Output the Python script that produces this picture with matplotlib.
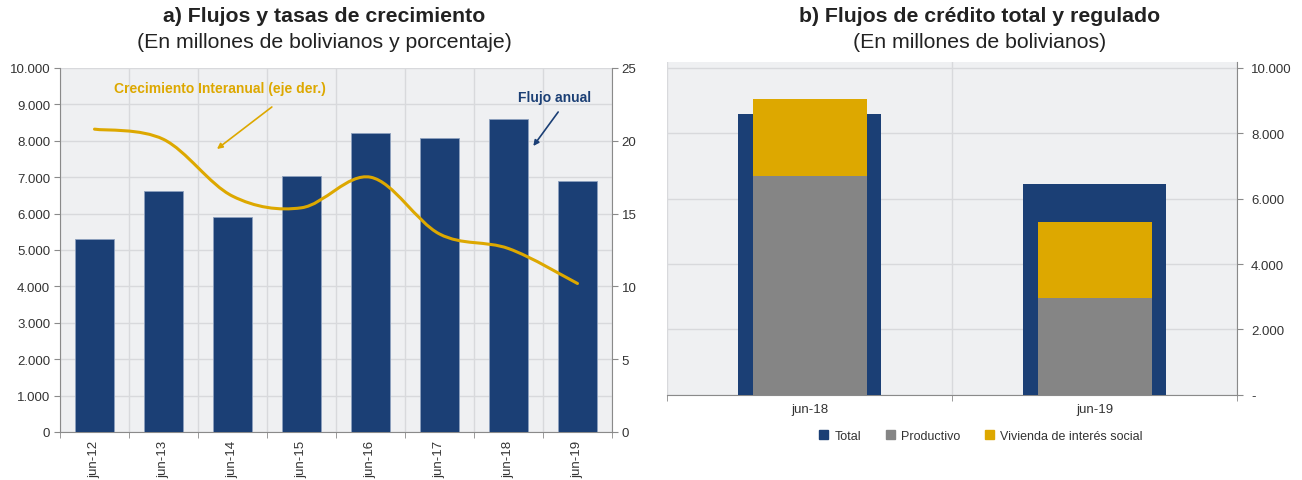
import matplotlib
matplotlib.use("Agg")
import matplotlib.pyplot as plt
from matplotlib.path import Path
from matplotlib.patches import PathPatch, Patch
from matplotlib.ticker import FixedLocator, FuncFormatter
import numpy as np

plt.rcParams['font.family'] = ['Liberation Sans', 'DejaVu Sans']

# ---------------- data ----------------
years = ["jun-12", "jun-13", "jun-14", "jun-15", "jun-16", "jun-17", "jun-18", "jun-19"]
flujo_anual = [5300, 6620, 5910, 7040, 8220, 8080, 8600, 6900]
crecimiento = [20.8, 20.1, 16.2, 15.4, 17.5, 13.6, 12.6, 10.2]

cats_b = ["jun-18", "jun-19"]
total_b = [8600, 6440]
productivo_b = [6700, 2970]
vivienda_b = [2350, 2310]

NAVY = "#1B3F75"
GOLD = "#DDA800"
GRAY = "#858585"
BG = "#EFF0F2"
GRID = "#D8D9DC"
SPINE = "#8A8A8A"
TXT = "#333333"

fig = plt.figure(figsize=(13.02, 4.81), dpi=100)

def thousands(v, pos=None):
    return f"{int(round(v)):,}".replace(",", ".")

# ---------------- panel a ----------------
ax = fig.add_axes([60/1302, 1-433/481, 552/1302, 364/481])
ax.set_facecolor(BG)
x = np.arange(len(years))
ax.bar(x, flujo_anual, width=0.56, color=NAVY, edgecolor="#8DA0BE", linewidth=0.6, zorder=3)
ax.set_xlim(-0.5, len(years)-0.5)
ax.set_ylim(0, 10000)
ax.yaxis.set_major_locator(FixedLocator(np.arange(0, 10001, 1000)))
ax.yaxis.set_major_formatter(FuncFormatter(thousands))
ax.set_xticks(x)
ax.set_xticklabels(years, rotation=90)
ax.xaxis.set_minor_locator(FixedLocator(np.arange(-0.5, len(years), 1.0)))
ax.tick_params(axis='x', which='major', length=0, labelsize=9.5, colors=TXT, pad=6)
ax.tick_params(axis='x', which='minor', length=4, color=SPINE)
ax.tick_params(axis='y', length=4, color=SPINE, labelsize=9.5, labelcolor=TXT, pad=3)
ax.grid(axis='y', which='major', color=GRID, lw=1, zorder=0)
ax.grid(axis='x', which='minor', color=GRID, lw=1, zorder=0)
for s in ['top', 'right']:
    ax.spines[s].set_visible(False)
for s in ['left', 'bottom']:
    ax.spines[s].set_color(SPINE)

ax2 = ax.twinx()
ax2.set_ylim(0, 25)
ax2.set_yticks(np.arange(0, 26, 5))
ax2.tick_params(axis='y', length=4, color=SPINE, labelsize=9.5, labelcolor=TXT, pad=3)
for s in ['top', 'left', 'bottom']:
    ax2.spines[s].set_visible(False)
ax2.spines['right'].set_color(SPINE)

# smoothed line (Excel-like Catmull-Rom Bezier) through the data points
pts = np.column_stack([x, crecimiento]).astype(float)
ext = np.vstack([pts[0], pts, pts[-1]])
verts = [tuple(pts[0])]
codes = [Path.MOVETO]
for i in range(len(pts)-1):
    p0, p1, p2, p3 = ext[i], ext[i+1], ext[i+2], ext[i+3]
    c1 = p1 + (p2 - p0) / 6.0
    c2 = p2 - (p3 - p1) / 6.0
    verts += [tuple(c1), tuple(c2), tuple(p2)]
    codes += [Path.CURVE4]*3
ax2.add_patch(PathPatch(Path(verts, codes), fill=False, edgecolor=GOLD, lw=2.2,
                        capstyle='round', zorder=5))

ax.text(1.82, 9451, "Crecimiento Interanual (eje der.)", ha='center', va='center',
        color=GOLD, fontsize=10, fontweight='bold', zorder=6)
ax.annotate("", xy=(1.775, 7775), xytext=(2.57, 8929),
            arrowprops=dict(arrowstyle='-|>', color=GOLD, lw=1.2, mutation_scale=8,
                            shrinkA=0, shrinkB=0))
ax.text(6.67, 9203, "Flujo anual", ha='center', va='center', color=NAVY,
        fontsize=10, fontweight='bold', zorder=6)
ax.annotate("", xy=(6.36, 7857), xytext=(6.72, 8791),
            arrowprops=dict(arrowstyle='-|>', color=NAVY, lw=1.2, mutation_scale=8,
                            shrinkA=0, shrinkB=0))

fig.text(324/1302, 1-17/481, "a) Flujos y tasas de crecimiento", ha='center', va='center',
         fontsize=15.3, fontweight='bold', color="#222222")
fig.text(324/1302, 1-43/481, "(En millones de bolivianos y porcentaje)", ha='center', va='center',
         fontsize=15.3, color="#222222")

# ---------------- panel b ----------------
bx = fig.add_axes([667/1302, 1-395.7/481, 570/1302, 332.4/481])
bx.set_facecolor(BG)
xb = np.arange(len(cats_b))
bx.bar(xb, total_b, width=0.5, color=NAVY, zorder=3, label="Total")
bx.bar(xb, productivo_b, width=0.4, color=GRAY, zorder=4, label="Productivo")
bx.bar(xb, vivienda_b, width=0.4, bottom=productivo_b, color=GOLD, zorder=4,
       label="Vivienda de interés social")
bx.set_xlim(-0.5, len(cats_b)-0.5)
bx.set_ylim(0, 10174)
bx.yaxis.tick_right()
bx.yaxis.set_major_locator(FixedLocator(np.arange(0, 10001, 2000)))
bx.yaxis.set_major_formatter(FuncFormatter(lambda v, p: "-" if v == 0 else thousands(v)))
bx.set_xticks(xb)
bx.set_xticklabels(cats_b)
bx.xaxis.set_minor_locator(FixedLocator(np.arange(-0.5, len(cats_b), 1.0)))
bx.tick_params(axis='x', which='major', length=0, labelsize=9.5, colors=TXT, pad=6)
bx.tick_params(axis='x', which='minor', length=4, color=SPINE)
bx.tick_params(axis='y', length=4, color=SPINE, labelsize=9.5, labelcolor=TXT, pad=6)
bx.grid(axis='y', which='major', color=GRID, lw=1, zorder=0)
bx.grid(axis='x', which='minor', color=GRID, lw=1, zorder=0)
for s in ['top', 'left']:
    bx.spines[s].set_visible(False)
for s in ['right', 'bottom']:
    bx.spines[s].set_color(SPINE)

handles = [Patch(color=NAVY, label="Total"), Patch(color=GRAY, label="Productivo"),
           Patch(color=GOLD, label="Vivienda de interés social")]
fig.legend(handles=handles, loc='center', bbox_to_anchor=(981/1302, 1-437/481), ncol=3,
           frameon=False, fontsize=9, handlelength=0.7, handleheight=0.7,
           handletextpad=0.5, columnspacing=2.0, labelcolor=TXT)

fig.text(980/1302, 1-17/481, "b) Flujos de crédito total y regulado", ha='center', va='center',
         fontsize=15.3, fontweight='bold', color="#222222")
fig.text(980/1302, 1-43/481, "(En millones de bolivianos)", ha='center', va='center',
         fontsize=15.3, color="#222222")

fig.savefig("out.png", dpi=100)
